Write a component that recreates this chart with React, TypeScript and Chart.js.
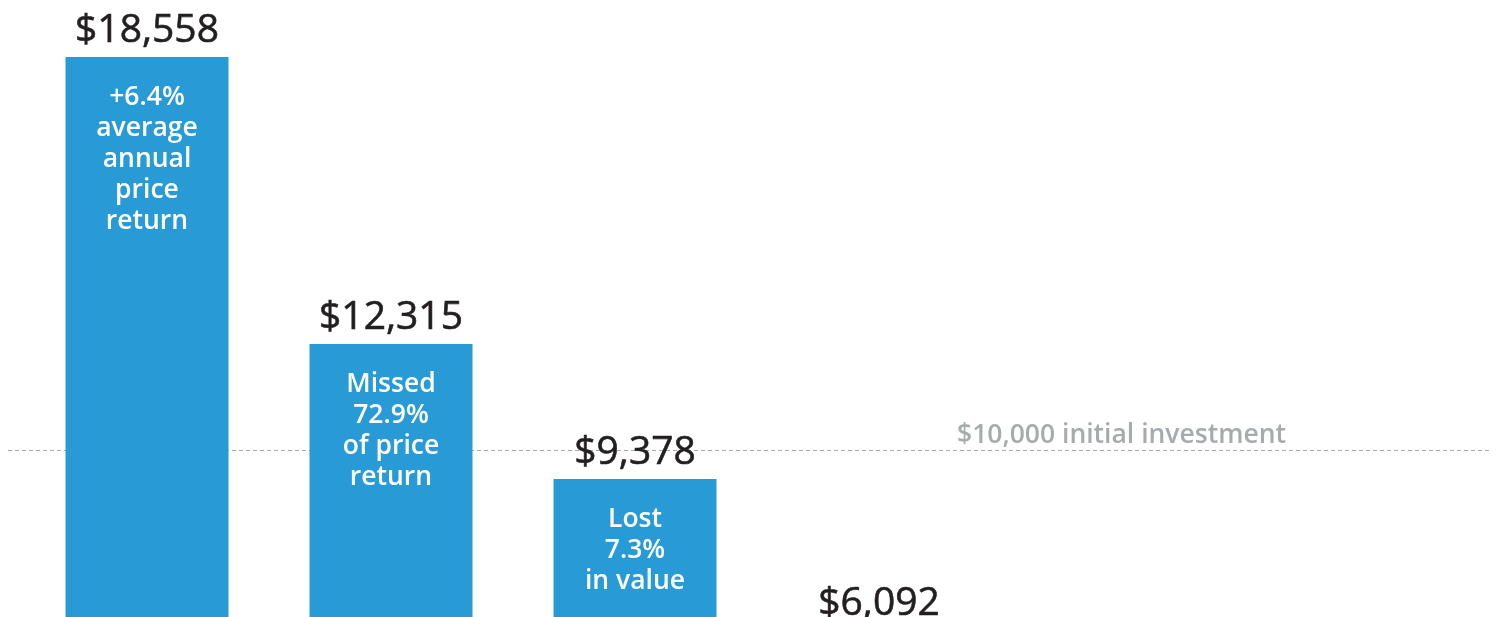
import React, { useEffect, useRef } from "react";
import { Chart, registerables } from "chart.js";

Chart.register(...registerables);

const categories = ["1", "2", "3", "4"];
const values = [18558, 12315, 9378, 6092];
const valueLabels = ["$18,558", "$12,315", "$9,378", "$6,092"];
const innerLabels: string[][] = [
  ["+6.4%", "average", "annual", "price", "return"],
  ["Missed", "72.9%", "of price", "return"],
  ["Lost", "7.3%", "in value"],
  [],
];
const initialInvestment = 10000;
const initialInvestmentLabel = "$10,000 initial investment";

const BAR_COLOR = "#289bd7";
const FONT = "'Open Sans', Lato, sans-serif";

const overlayPlugin = {
  id: "overlay",
  beforeDatasetsDraw(chart: any) {
    const { ctx } = chart;
    const y = chart.scales.y.getPixelForValue(initialInvestment);
    ctx.save();
    ctx.strokeStyle = "#a9abad";
    ctx.lineWidth = 1;
    ctx.setLineDash([4, 3]);
    ctx.beginPath();
    ctx.moveTo(8, Math.round(y) + 0.5);
    ctx.lineTo(1490, Math.round(y) + 0.5);
    ctx.stroke();
    ctx.setLineDash([]);
    ctx.fillStyle = "#a8abae";
    ctx.font = `600 26.5px ${FONT}`;
    ctx.textAlign = "left";
    ctx.textBaseline = "alphabetic";
    ctx.fillText(initialInvestmentLabel, 957, y - 7);
    ctx.restore();
  },
  afterDatasetsDraw(chart: any) {
    const { ctx } = chart;
    const meta = chart.getDatasetMeta(0);
    const yScale = chart.scales.y;
    ctx.save();
    meta.data.forEach((bar: any, i: number) => {
      const top = yScale.getPixelForValue(values[i]);
      const x = bar.x;
      ctx.fillStyle = "#231f20";
      ctx.strokeStyle = "#231f20";
      ctx.lineWidth = 0.6;
      ctx.font = `500 39px ${FONT}`;
      ctx.textAlign = "center";
      ctx.textBaseline = "alphabetic";
      ctx.fillText(valueLabels[i], x, top - 15);
      ctx.strokeText(valueLabels[i], x, top - 15);
      ctx.fillStyle = "#ffffff";
      ctx.font = `600 26.5px ${FONT}`;
      ctx.textBaseline = "middle";
      innerLabels[i].forEach((line, j) => {
        ctx.fillText(line, x, top + 40 + j * 31);
      });
    });
    ctx.restore();
  },
};

export default function App() {
  const canvasRef = useRef<HTMLCanvasElement | null>(null);

  useEffect(() => {
    if (!canvasRef.current) return;
    const chart = new Chart(canvasRef.current, {
      type: "bar",
      data: {
        labels: categories,
        datasets: [
          {
            data: values,
            backgroundColor: BAR_COLOR,
            borderWidth: 0,
            categoryPercentage: 1,
            barPercentage: 0.668,
          },
        ],
      },
      options: {
        animation: false,
        responsive: true,
        maintainAspectRatio: false,
        layout: { padding: { left: 25, right: 495, top: 0, bottom: 0 } },
        plugins: {
          legend: { display: false },
          tooltip: { enabled: false },
        },
        scales: {
          x: { display: false, grid: { display: false } },
          y: { display: false, min: 6375, max: 19798, grid: { display: false } },
        },
      },
      plugins: [overlayPlugin],
    });
    return () => chart.destroy();
  }, []);

  return (
    <div style={{ position: "fixed", left: 0, top: 0, width: 1496, height: 617, background: "#fff" }}>
      <canvas ref={canvasRef} />
    </div>
  );
}
